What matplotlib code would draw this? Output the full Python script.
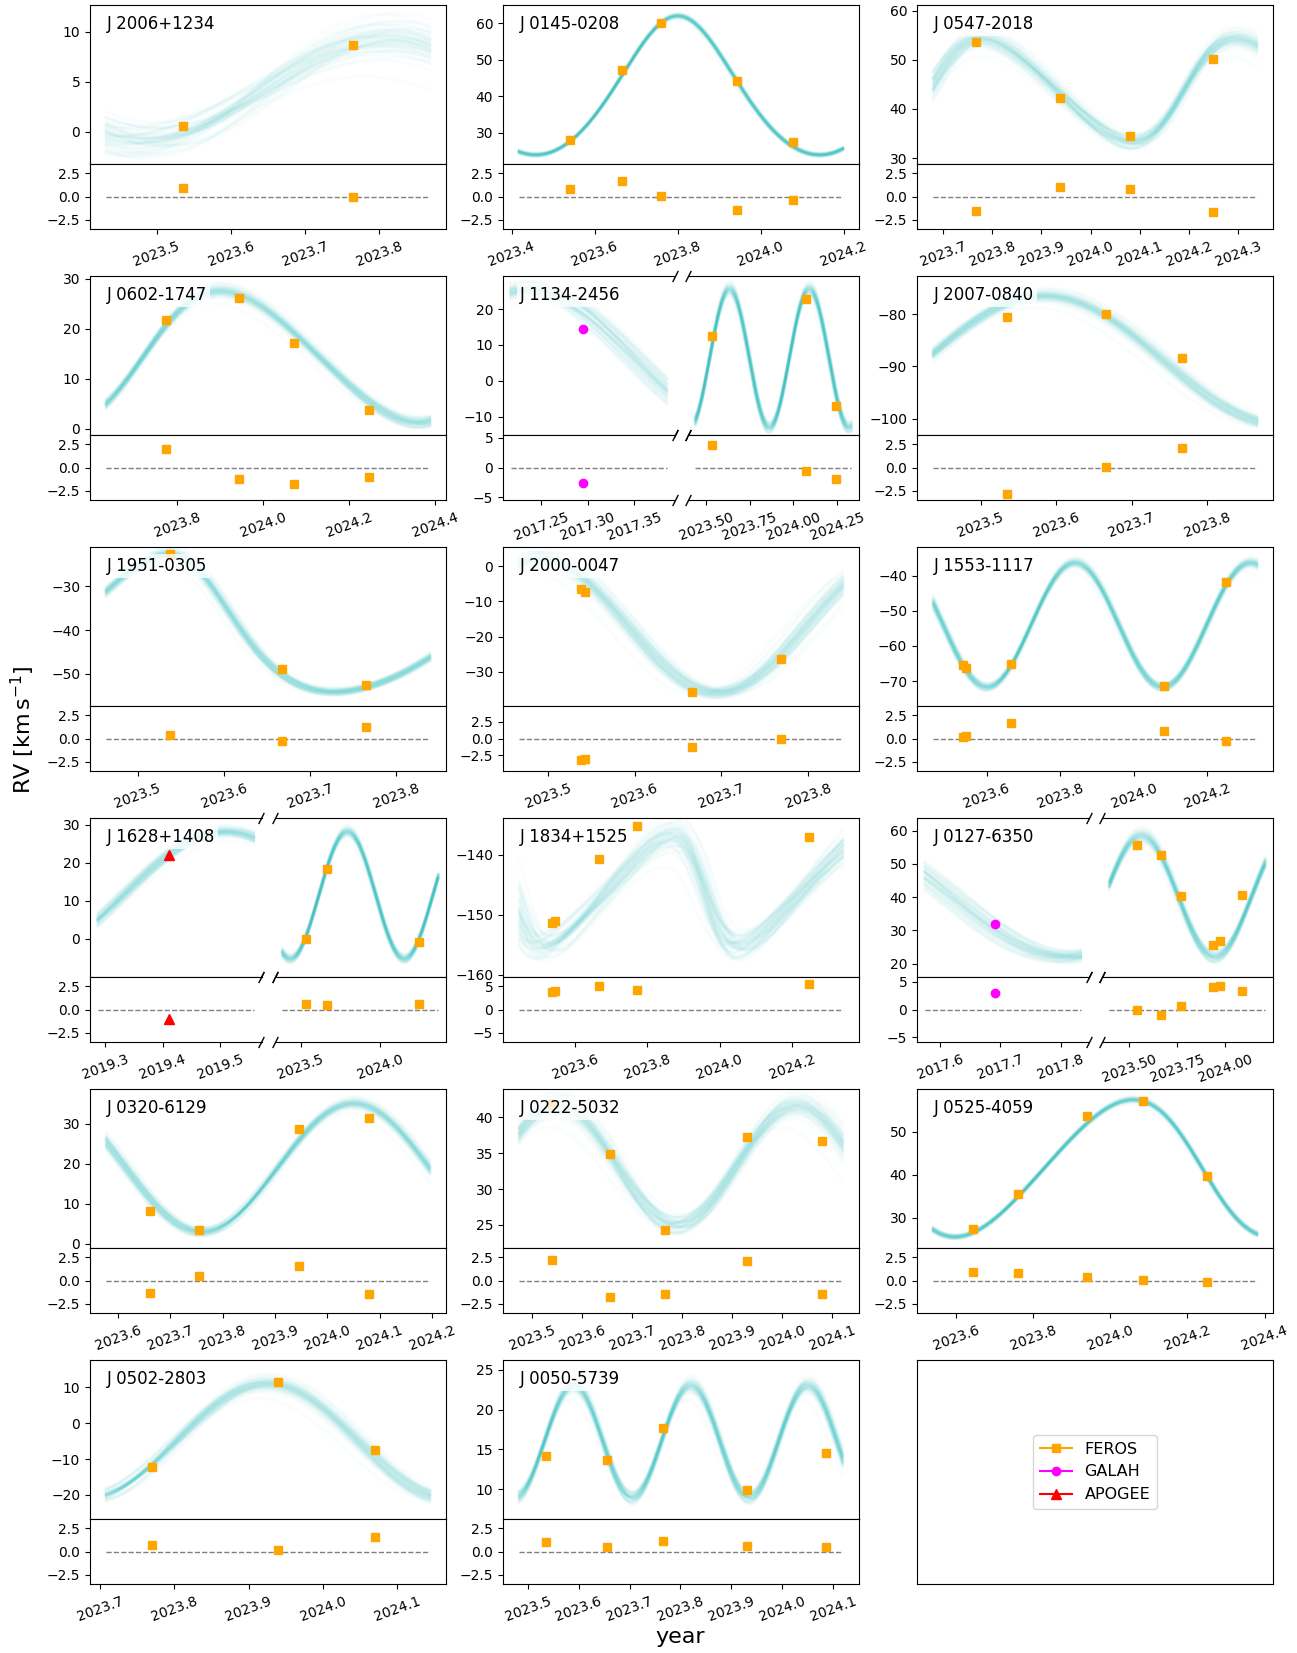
import numpy as np
import matplotlib
matplotlib.use("Agg")
import matplotlib.pyplot as plt
from matplotlib.lines import Line2D

NAMES = ["J 2006+1234", "J 0145-0208", "J 0547-2018",
         "J 0602-1747", "J 1134-2456", "J 2007-0840",
         "J 1951-0305", "J 2000-0047", "J 1553-1117",
         "J 1628+1408", "J 1834+1525", "J 0127-6350",
         "J 0320-6129", "J 0222-5032", "J 0525-4059",
         "J 0502-2803", "J 0050-5739"]

# orbit solutions: period / periastron epoch [yr], e, omega [deg], K and gamma [km/s]
PERIOD = [0.66, 0.685, 0.517, 0.82, 0.457, 0.63, 0.4714, 0.41, 0.477,
          0.7138, 0.54, 0.767, 0.58, 0.48, 0.82, 0.49, 0.23]
T_PERI = [2023.81, 2023.80, 2024.19, 2023.721, 2023.634, 2023.584, 2023.5748,
          2023.49, 2023.84, 2023.793, 2023.96, 2023.563, 2024.05, 2023.55,
          2024.2385, 2023.925, 2023.59]
ECC = [0.0, 0.1, 0.15, 0.1, 0.0, 0.0, 0.2, 0.0, 0.0, 0.0, 0.25, 0.0,
       0.0, 0.0, 0.1, 0.0, 0.0]
OMEGA = [0, 0, -90, -90, 0, 0, 45, 0, 0, 0, 90, 0, 0, 0, 90, 0, 0]
K_AMP = [5.1, 19.0, 10.5, 13.15, 19.25, 12.3, 15.7, 19.0, 17.7, 16.7, 9.25,
         18.25, 16.0, 8.3, 16.0, 16.0, 7.0]
GAMMA = [4.2, 41.1, 43.8, 14.35, 6.25, -88.8, -40.62, -17.0, -54.0, 11.5,
         -146.05, 40.25, 19.0, 33.3, 41.5, -5.0, 16.0]

# posterior widths used for the drawn orbit samples
SIG_P = [0.03, 0.002, 0.008, 0.006, 0.0006, 0.01, 0.005, 0.01, 0.003, 0.001,
         0.018, 0.002, 0.006, 0.006, 0.002, 0.01, 0.001]
SIG_T = [0.012, 0.002, 0.006, 0.004, 0.003, 0.005, 0.003, 0.005, 0.003, 0.003,
         0.012, 0.005, 0.004, 0.006, 0.002, 0.005, 0.002]
SIG_K = [0.8, 0.25, 0.7, 0.5, 0.7, 0.4, 0.4, 0.6, 0.5, 0.5, 1.1, 0.8, 0.5,
         0.6, 0.25, 0.8, 0.4]
SIG_G = [0.7, 0.2, 0.7, 0.5, 0.7, 0.5, 0.4, 0.8, 0.5, 0.5, 1.0, 0.8, 0.5,
         0.6, 0.25, 0.8, 0.3]

# model time span of each axis segment (two segments = broken x axis)
SPANS = [[(2023.432, 2023.868)], [(2023.418, 2024.198)], [(2023.680, 2024.338)],
         [(2023.635, 2024.388)], [(2017.217, 2017.385), (2023.438, 2024.332)],
         [(2023.437, 2023.866)], [(2023.4635, 2023.839)], [(2023.467, 2023.840)],
         [(2023.455, 2024.334)], [(2019.287, 2019.558), (2023.386, 2024.362)],
         [(2023.445, 2024.341)], [(2017.575, 2017.833), (2023.396, 2024.209)],
         [(2023.577, 2024.196)], [(2023.474, 2024.122)], [(2023.541, 2024.380)],
         [(2023.708, 2024.144)], [(2023.483, 2024.119)]]

OBS_T = [[2023.535, 2023.765],
         [2023.540, 2023.667, 2023.760, 2023.943, 2024.077],
         [2023.767, 2023.938, 2024.080, 2024.249],
         [2023.774, 2023.943, 2024.072, 2024.247],
         [2017.295, 2023.534, 2024.070, 2024.246],
         [2023.535, 2023.666, 2023.767],
         [2023.538, 2023.667, 2023.765],
         [2023.538, 2023.543, 2023.666, 2023.769],
         [2023.537, 2023.543, 2023.666, 2024.083, 2024.250],
         [2019.411, 2023.537, 2023.665, 2024.244],
         [2023.535, 2023.543, 2023.666, 2023.770, 2024.246],
         [2017.692, 2023.538, 2023.666, 2023.769, 2023.938, 2023.973, 2024.087],
         [2023.660, 2023.755, 2023.945, 2024.080],
         [2023.540, 2023.655, 2023.765, 2023.930, 2024.080],
         [2023.645, 2023.760, 2023.940, 2024.085, 2024.250],
         [2023.770, 2023.940, 2024.070],
         [2023.535, 2023.655, 2023.765, 2023.930, 2024.085]]
OBS_RV = [[0.55, 8.7],
          [28.2, 47.3, 60.0, 44.2, 27.5],
          [53.7, 42.2, 34.4, 50.2],
          [21.7, 26.1, 17.2, 3.8],
          [14.3, 12.5, 22.9, -6.9],
          [-80.6, -80.0, -88.3],
          [-22.8, -48.9, -52.5],
          [-6.4, -7.4, -35.8, -26.5],
          [-65.3, -66.3, -65.0, -71.4, -41.8],
          [22.2, 0.0, 18.4, -0.9],
          [-151.4, -151.0, -140.7, -135.2, -137.1],
          [31.8, 55.7, 52.7, 40.5, 25.7, 26.7, 40.8],
          [8.2, 3.6, 28.7, 31.5],
          [41.8, 34.9, 24.3, 37.2, 36.7],
          [27.4, 35.6, 53.8, 57.1, 39.8],
          [-12.3, 11.5, -7.5],
          [14.2, 13.7, 17.7, 9.9, 14.5]]
OBS_RES = [[0.95, -0.1],
           [0.76, 1.63, 0.1, -1.41, -0.36],
           [-1.56, 0.98, 0.76, -1.67],
           [1.99, -1.23, -1.81, -1.05],
           [-2.6, 3.8, -0.63, -2.0],
           [-2.8, 0.1, 2.13],
           [0.36, -0.22, 1.23],
           [-3.2, -3.06, -1.28, -0.1],
           [0.18, 0.25, 1.63, 0.83, -0.25],
           [-1.07, 0.59, 0.44, 0.63],
           [3.8, 3.9, 5.0, 4.2, 5.45],
           [2.9, 0.0, -1.06, 0.56, 4.1, 4.3, 3.3],
           [-1.3, 0.5, 1.6, -1.5],
           [2.2, -1.8, -1.5, 2.1, -1.5],
           [0.9, 0.8, 0.4, 0.1, -0.2],
           [0.7, 0.2, 1.6],
           [1.0, 0.5, 1.1, 0.6, 0.5]]
OBS_SRC = [["FEROS"] * 2, ["FEROS"] * 5, ["FEROS"] * 4, ["FEROS"] * 4,
           ["GALAH"] + ["FEROS"] * 3, ["FEROS"] * 3, ["FEROS"] * 3,
           ["FEROS"] * 4, ["FEROS"] * 5, ["APOGEE"] + ["FEROS"] * 3,
           ["FEROS"] * 5, ["GALAH"] + ["FEROS"] * 6, ["FEROS"] * 4,
           ["FEROS"] * 5, ["FEROS"] * 5, ["FEROS"] * 3, ["FEROS"] * 5]

YLIM = [(-3.2, 12.65), (21.5, 65.0), (28.8, 61.15), (-1.26, 30.5),
        (-15.1, 29.2), (-103.1, -72.7), (-57.3, -21.1), (-39.7, 5.4),
        (-77.1, -31.8), (-10.0, 31.8), (-160.4, -133.9), (16.0, 63.8),
        (-1.0, 38.6), (21.8, 43.9), (22.9, 60.0), (-26.7, 17.6), (6.3, 26.2)]
YTICKS = [[0, 5, 10], [30, 40, 50, 60], [30, 40, 50, 60], [0, 10, 20, 30],
          [-10, 0, 10, 20], [-100, -90, -80], [-50, -40, -30],
          [-30, -20, -10, 0], [-70, -60, -50, -40], [0, 10, 20, 30],
          [-160, -150, -140], [20, 30, 40, 50, 60], [0, 10, 20, 30],
          [25, 30, 35, 40], [30, 40, 50], [-20, -10, 0, 10], [10, 15, 20, 25]]
RES_LIM = [3.5, 3.5, 3.5, 3.5, 5.45, 3.5, 3.5, 4.8, 3.5, 3.5, 7.0, 5.84,
           3.5, 3.5, 3.5, 3.5, 3.5]
RES_TICKS = [[-2.5, 0, 2.5]] * 4 + [[-5, 0, 5]] + [[-2.5, 0, 2.5]] * 5 + \
            [[-5, 0, 5], [-5, 0, 5]] + [[-2.5, 0, 2.5]] * 5

XTICKS = [[[2023.5, 2023.6, 2023.7, 2023.8]],
          [[2023.4, 2023.6, 2023.8, 2024.0, 2024.2]],
          [[2023.7, 2023.8, 2023.9, 2024.0, 2024.1, 2024.2, 2024.3]],
          [[2023.8, 2024.0, 2024.2, 2024.4]],
          [[2017.25, 2017.30, 2017.35], [2023.50, 2023.75, 2024.00, 2024.25]],
          [[2023.5, 2023.6, 2023.7, 2023.8]],
          [[2023.5, 2023.6, 2023.7, 2023.8]],
          [[2023.5, 2023.6, 2023.7, 2023.8]],
          [[2023.6, 2023.8, 2024.0, 2024.2]],
          [[2019.3, 2019.4, 2019.5], [2023.5, 2024.0]],
          [[2023.6, 2023.8, 2024.0, 2024.2]],
          [[2017.6, 2017.7, 2017.8], [2023.50, 2023.75, 2024.00]],
          [[2023.6, 2023.7, 2023.8, 2023.9, 2024.0, 2024.1, 2024.2]],
          [[2023.5, 2023.6, 2023.7, 2023.8, 2023.9, 2024.0, 2024.1]],
          [[2023.6, 2023.8, 2024.0, 2024.2, 2024.4]],
          [[2023.7, 2023.8, 2023.9, 2024.0, 2024.1]],
          [[2023.5, 2023.6, 2023.7, 2023.8, 2023.9, 2024.0, 2024.1]]]

SRC_STYLE = {"FEROS": dict(color="orange", marker="s", ms=6),
             "GALAH": dict(color="magenta", marker="o", ms=6),
             "APOGEE": dict(color="red", marker="^", ms=7)}

# fixed set of standard offsets for the orbit samples
N_DRAWS = 50
_u = (np.arange(N_DRAWS) + 0.5) / N_DRAWS
_q = 0.55 * np.log(_u / (1 - _u))
Z = np.array([_q[(np.arange(N_DRAWS) * s) % N_DRAWS] for s in (1, 7, 13, 19)])

# figure layout in pixels
W, H = 1297, 1653
COL_X = [90, 503, 917]
ROW_Y0, ROW_STEP = 5, 271
AX_W, MAIN_H, RES_H = 356, 159, 65
GAP = 13


def kepler_rv(t, P, tp, e, w, K, gamma):
    M = 2 * np.pi * (t - tp) / P
    E = M.copy()
    for _ in range(40):
        E = E - (E - e * np.sin(E) - M) / (1 - e * np.cos(E))
    nu = 2 * np.arctan2(np.sqrt(1 + e) * np.sin(E / 2), np.sqrt(1 - e) * np.cos(E / 2))
    return gamma + K * (np.cos(nu + w) + e * np.cos(w))


def box(x, y, w, h):
    return [x / W, 1 - (y + h) / H, w / W, h / H]


def break_marks(ax, xpos, ys):
    kw = dict(marker=[(-0.5, -1), (0.5, 1)], markersize=8, linestyle="none",
              color="k", mec="k", mew=1, clip_on=False, transform=ax.transAxes)
    ax.plot([xpos] * len(ys), ys, **kw)


fig = plt.figure(figsize=(W / 100, H / 100), dpi=100)

for i, name in enumerate(NAMES):
    row, col = divmod(i, 3)
    y0 = ROW_Y0 + row * ROW_STEP
    segs = SPANS[i]
    nseg = len(segs)
    sub_w = (AX_W - GAP * (nseg - 1)) / nseg
    t_obs = np.array(OBS_T[i])
    for j, (t0, t1) in enumerate(segs):
        x0 = COL_X[col] + j * (sub_w + GAP)
        ax = fig.add_axes(box(x0, y0, sub_w, MAIN_H))
        rax = fig.add_axes(box(x0, y0 + MAIN_H, sub_w, RES_H), sharex=ax)

        tt = np.linspace(t0, t1, 500)
        for k in range(N_DRAWS):
            rv = kepler_rv(tt, PERIOD[i] + SIG_P[i] * Z[0, k],
                           T_PERI[i] + SIG_T[i] * Z[1, k], ECC[i],
                           np.radians(OMEGA[i]), K_AMP[i] + SIG_K[i] * Z[2, k],
                           GAMMA[i] + SIG_G[i] * Z[3, k])
            ax.plot(tt, rv, color="c", alpha=0.022, lw=2.0, zorder=1)
        rax.plot([t0, t1], [0, 0], ls="--", color="grey", lw=1, zorder=1)

        sel = (t_obs > t0 - 0.1) & (t_obs < t1 + 0.1)
        for k in np.where(sel)[0]:
            st = SRC_STYLE[OBS_SRC[i][k]]
            ax.plot(OBS_T[i][k], OBS_RV[i][k], ls="none", zorder=3, **st)
            rax.plot(OBS_T[i][k], OBS_RES[i][k], ls="none", zorder=3, **st)

        span = t1 - t0
        ax.set_xlim(t0 - 0.05 * span, t1 + 0.05 * span)
        ax.set_ylim(*YLIM[i])
        rax.set_ylim(-RES_LIM[i], RES_LIM[i])
        ticks = XTICKS[i][j]
        dec = 1 if all(abs(v * 10 - round(v * 10)) < 1e-6 for v in ticks) else 2
        rax.set_xticks(ticks)
        rax.set_xticklabels([f"{v:.{dec}f}" for v in ticks])
        rax.tick_params(axis="x", labelrotation=20)
        ax.tick_params(axis="x", bottom=False, labelbottom=False)

        if j == 0:
            ax.set_yticks(YTICKS[i])
            rax.set_yticks(RES_TICKS[i])
            ax.text(17 / sub_w, 1 - 19 / MAIN_H, name, transform=ax.transAxes,
                    fontsize=12, ha="left", va="center", zorder=6,
                    bbox=dict(facecolor="white", edgecolor="none", alpha=0.8, pad=2))
        else:
            for a in (ax, rax):
                a.tick_params(axis="y", left=False, labelleft=False)
                a.spines["left"].set_visible(False)
            break_marks(ax, 0, [0, 1])
            break_marks(rax, 0, [0, 1])
        if nseg > 1 and j == 0:
            for a in (ax, rax):
                a.spines["right"].set_visible(False)
            break_marks(ax, 1, [0, 1])
            break_marks(rax, 1, [0, 1])

# legend panel in the free grid cell
lax = fig.add_axes(box(COL_X[2], ROW_Y0 + 5 * ROW_STEP, AX_W, MAIN_H + RES_H))
lax.set_xticks([])
lax.set_yticks([])
handles = [Line2D([], [], label=k, **v) for k, v in SRC_STYLE.items()]
lax.legend(handles=handles, loc="center", fontsize=11.5)

fig.text(23 / W, 1 - 730 / H, r"RV [$\mathrm{km\,s^{-1}}$]", rotation=90,
         ha="center", va="center", fontsize=16)
fig.text(680 / W, 1 - 1637 / H, "year", ha="center", va="center", fontsize=16)

fig.savefig("out.png", dpi=100)
